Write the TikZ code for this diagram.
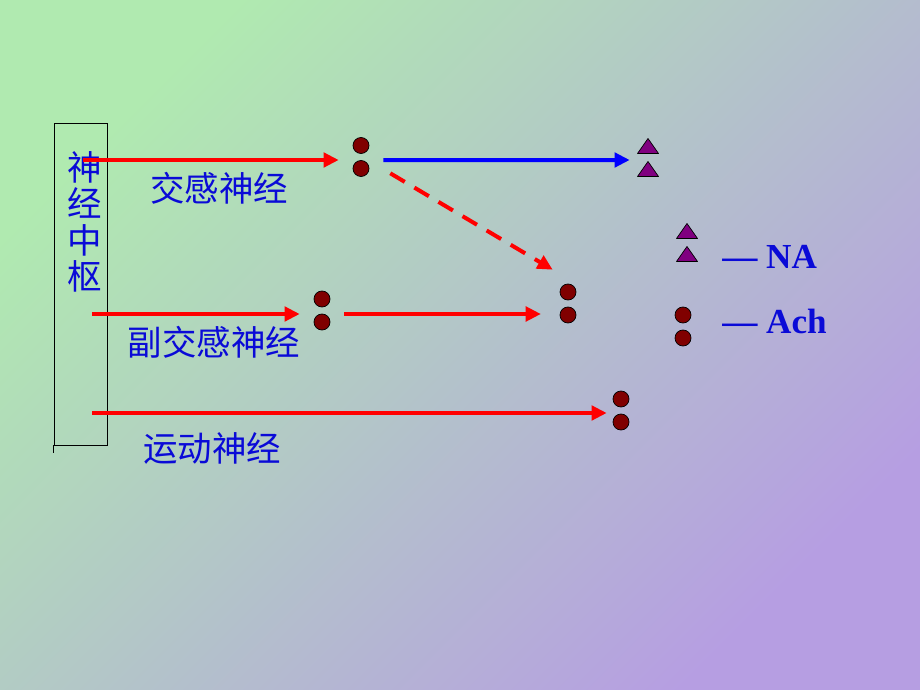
\documentclass[tikz,border=0pt]{standalone}
\usepackage{fontspec}
\setmainfont{Liberation Serif}
\newfontfamily\cjk{Noto Sans CJK SC}
\usetikzlibrary{arrows.meta,calc}

\definecolor{bggreen}{RGB}{176,234,176}
\definecolor{bgpurple}{RGB}{182,158,226}
\definecolor{achred}{RGB}{128,0,0}
\definecolor{napurple}{RGB}{128,0,128}
\definecolor{labelblue}{RGB}{10,10,215}

\tikzset{
  fibre/.style={line width=0.1cm, -{Triangle[length=0.38cm,width=0.36cm]}},
  ach/.style={circle, draw=black, line width=0.5pt, fill=achred, inner sep=0pt, minimum size=0.4cm},
  na/.style={draw=black, line width=0.5pt, fill=napurple, line join=round},
  pairbox/.style={inner sep=0pt, minimum width=1.1cm, minimum height=0.95cm},
  tribox/.style={inner sep=0pt, minimum width=0.9cm, minimum height=0.95cm},
  cnlabel/.style={text=labelblue, inner sep=0pt, font=\cjk\fontsize{24.5}{26}\selectfont},
  legend/.style={text=labelblue, inner sep=0pt, anchor=west, font=\bfseries\fontsize{25}{28}\selectfont}
}
% two transmitter dots, one above the other
\newcommand\dotpair[3]{%
  \node[pairbox] (#1) at (#2,#3) {};
  \node[ach] (#1-a) at (#2,#3-11.5) {};
  \node[ach] (#1-b) at (#2,#3+11.5) {};
}
% two transmitter triangles, one above the other
\newcommand\tripair[3]{%
  \node[tribox] (#1) at (#2,#3) {};
  \draw[na] (#2,#3-19) -- (#2+10.5,#3-4) -- (#2-10.5,#3-4) -- cycle;
  \draw[na] (#2,#3+4) -- (#2+10.5,#3+19) -- (#2-10.5,#3+19) -- cycle;
}

\begin{document}
\begin{tikzpicture}[x=0.025cm, y=-0.025cm]
  % Background
  \shade[left color=bggreen, right color=bgpurple, shading angle=45] (0,0) rectangle (920,690);
  \useasboundingbox (0,0) rectangle (920,690);

  % Central nervous system
  \node[draw, inner sep=0pt, minimum width=1.325cm, minimum height=8.05cm] (cns) at (80.5,284) {};
  \draw (cns.south west) -- +(0,8);
  \node[cnlabel, align=center] (cnslabel) at (85,222) {神\\经\\中\\枢};
  \coordinate (cns-s) at (83,160);
  \coordinate (cns-p) at (92,314);
  \coordinate (cns-m) at (92,413);

  % Transmitters
  \dotpair{sym}{361}{157}
  \dotpair{para}{322}{310.5}
  \dotpair{gang}{568}{303.5}
  \dotpair{motor}{621}{410.5}
  \tripair{eff}{648}{157.5}

  % Fibres
  \draw[fibre, red] (cns-s) -- (cns-s -| sym.west);
  \draw[fibre, blue] ($(sym.east)+(0,3)$) -- ($(eff.west)+(0,2.5)$);
  \draw[fibre, red, dash pattern=on 0.42cm off 0.28cm] ($(sym.south east)+(7,-3)$) -- ($(gang.north west)+(7,-14.5)$);
  \draw[fibre, red] (cns-p) -- (cns-p -| para.west);
  \draw[fibre, red, shorten >=0.12cm] ($(para.east)+(0,3.5)$) -- ($(gang.west)+(0,10.5)$);
  \draw[fibre, red, shorten >=-0.2cm] (cns-m) -- (cns-m -| motor.west);

  % Names
  \node[cnlabel] (symlabel) at (219,188) {交感神经};
  \node[cnlabel] (paralabel) at (214,342) {副交感神经};
  \node[cnlabel] (motorlabel) at (212,448) {运动神经};

  % Legend
  \tripair{natri}{687}{242.5}
  \dotpair{achdot}{683}{326.5}
  \node[legend] (nalabel) at (722,257) {— NA};
  \node[legend] (achlabel) at (722,321) {— Ach};
\end{tikzpicture}
\end{document}
